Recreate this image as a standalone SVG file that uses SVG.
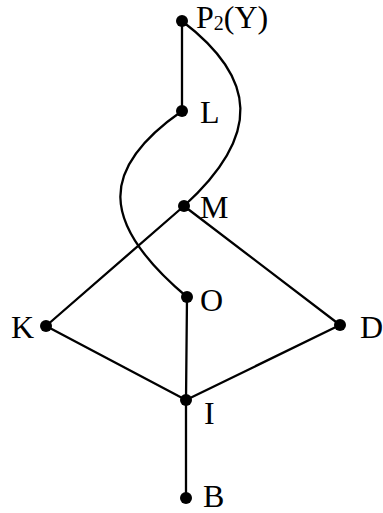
<svg xmlns="http://www.w3.org/2000/svg" width="383" height="513" viewBox="0 0 383 513">
<style>
.e{fill:none;stroke:#000;stroke-width:2.3;stroke-linecap:round}
.d{fill:#000}
.t{font-family:"Liberation Serif","Times New Roman",serif;font-size:32px;fill:#000}
</style>
<rect width="383" height="513" fill="#fff"/>
<g id="edges">
<path class="e" d="M182,21 L182,111"/>
<path class="e" d="M182,21 C257,78 262,135 184,206"/>
<path class="e" d="M182,111 C100,168 98,222 187,297"/>
<path class="e" d="M184,206 L46,326"/>
<path class="e" d="M184,206 L340,325"/>
<path class="e" d="M46,326 L186,400"/>
<path class="e" d="M340,325 L186,400"/>
<path class="e" d="M187,297 L186,400"/>
<path class="e" d="M186,400 L186,498"/>
</g>
<g id="nP2Y"><circle class="d" cx="182" cy="21" r="6"/><text class="t" x="196" y="28" font-size="31">P<tspan font-size="20" dy="2">2</tspan><tspan dy="-2">(Y)</tspan></text></g>
<g id="nL"><circle class="d" cx="182" cy="111" r="6"/><text class="t" x="200" y="123">L</text></g>
<g id="nM"><circle class="d" cx="184" cy="206" r="6"/><text class="t" x="200" y="218">M</text></g>
<g id="nO"><circle class="d" cx="187" cy="297" r="6"/><text class="t" x="200" y="311">O</text></g>
<g id="nK"><circle class="d" cx="46" cy="326" r="6"/><text class="t" x="11" y="338">K</text></g>
<g id="nD"><circle class="d" cx="340" cy="325" r="6"/><text class="t" x="360" y="338" font-size="30">D</text></g>
<g id="nI"><circle class="d" cx="186" cy="400" r="6"/><text class="t" x="204" y="424">I</text></g>
<g id="nB"><circle class="d" cx="186" cy="498" r="6"/><text class="t" x="203" y="507">B</text></g>
</svg>
